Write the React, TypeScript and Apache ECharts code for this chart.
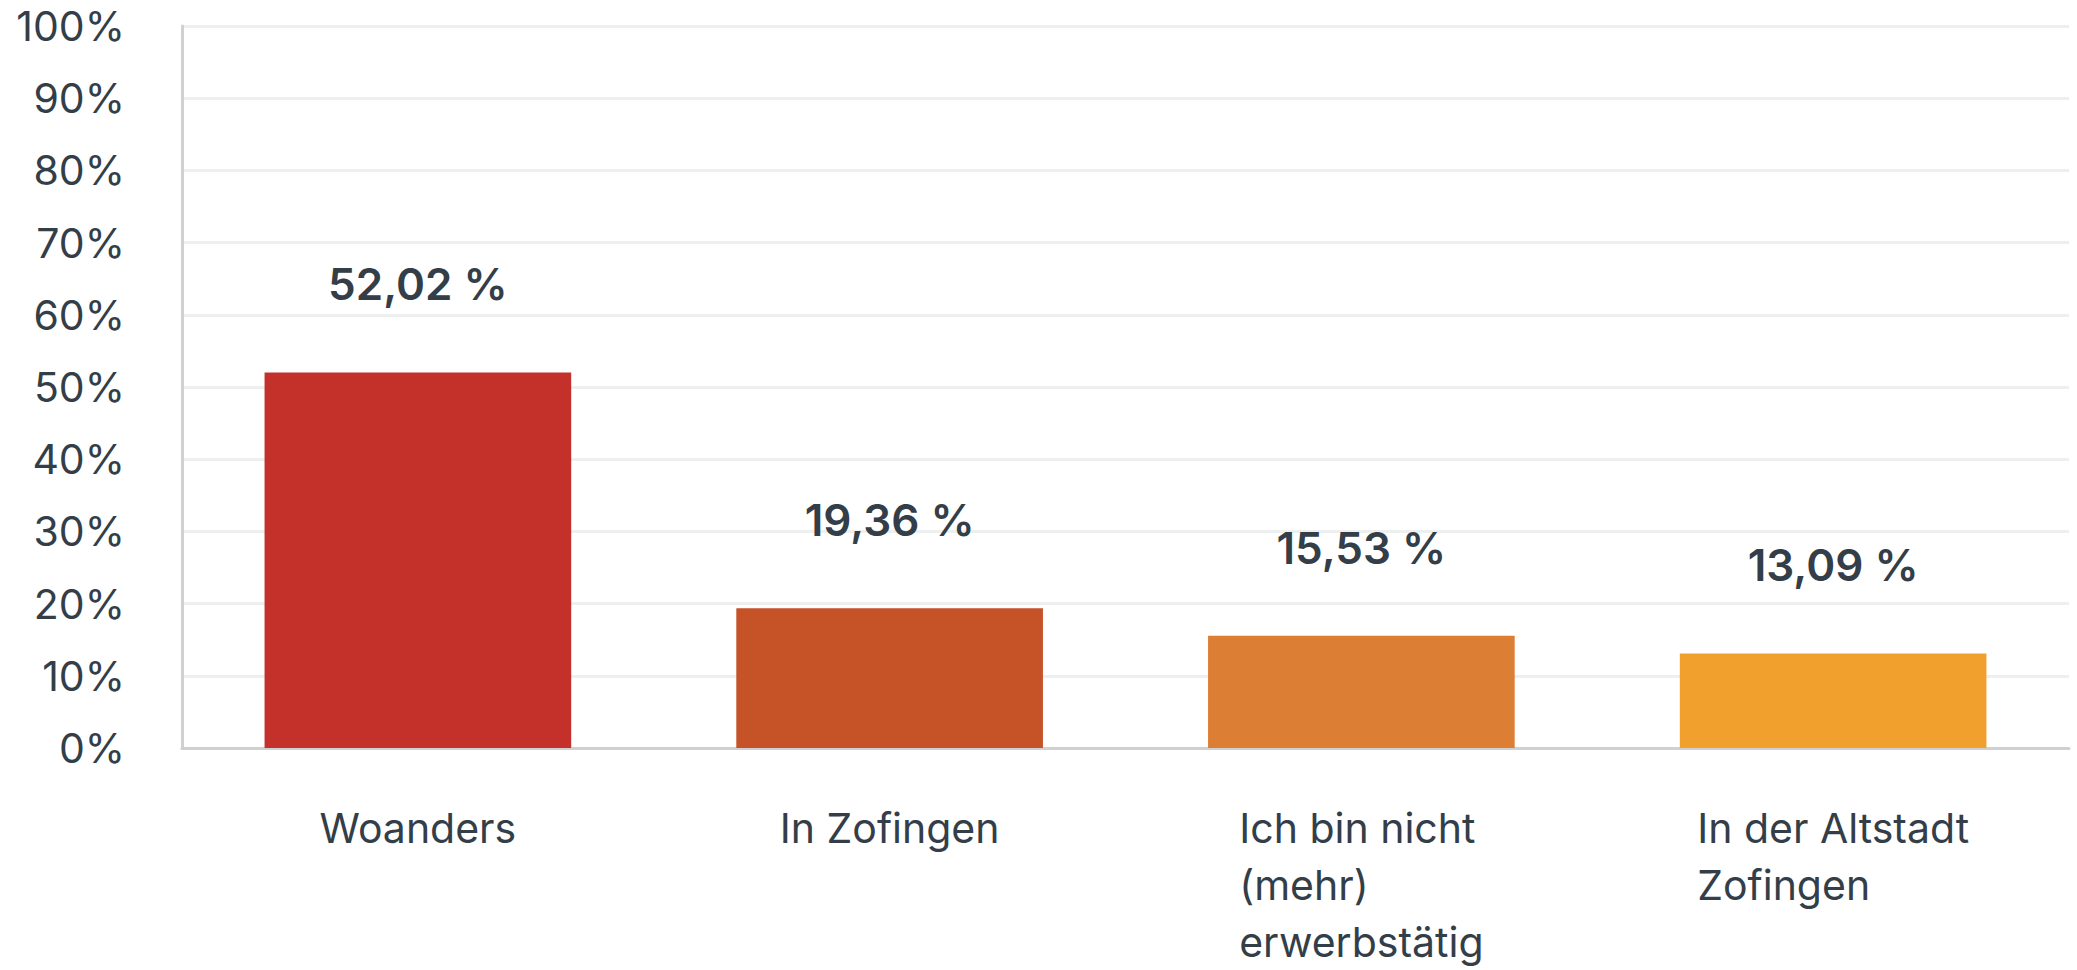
import React, { useEffect, useRef } from "react";
import * as echarts from "echarts";

const categories: string[][] = [
  ["Woanders"],
  ["In Zofingen"],
  ["Ich bin nicht", "(mehr)", "erwerbstätig"],
  ["In der Altstadt", "Zofingen"],
];
const values: number[] = [52.02, 19.36, 15.53, 13.09];
const valueLabels: string[] = ["52,02 %", "19,36 %", "15,53 %", "13,09 %"];
const barColors: string[] = ["#C4312B", "#C65228", "#DD7E35", "#F1A02E"];
const yTicks: number[] = [0, 10, 20, 30, 40, 50, 60, 70, 80, 90, 100];

const TEXT = "#333E48";
const FONT = "Inter, 'Noto Sans', sans-serif";

export default function App() {
  const ref = useRef<HTMLDivElement>(null);
  useEffect(() => {
    if (!ref.current) return;
    const chart = echarts.init(ref.current, null, { renderer: "svg" });
    const catNames = categories.map((c) => c.join("\n"));
    chart.setOption({
      animation: false,
      backgroundColor: "#ffffff",
      grid: { left: 182, right: 8, top: 22, bottom: 213, containLabel: false },
      xAxis: {
        type: "category",
        data: catNames,
        axisLine: { show: true, lineStyle: { color: "#D0D0D0", width: 3 } },
        axisTick: { show: false },
        axisLabel: {
          margin: 51,
          interval: 0,
          color: TEXT,
          fontFamily: FONT,
          fontSize: 41,
          lineHeight: 57,
          formatter: (v: string) =>
            v
              .split("\n")
              .map((l) => "{l|" + l + "}")
              .join("\n"),
          rich: {
            l: {
              align: "left",
              color: TEXT,
              fontFamily: FONT,
              fontSize: 41,
              lineHeight: 57,
            },
          },
        },
      },
      yAxis: {
        type: "value",
        min: yTicks[0],
        max: yTicks[yTicks.length - 1],
        interval: 10,
        axisLine: { show: true, lineStyle: { color: "#D0D0D0", width: 3 } },
        axisTick: { show: false },
        splitLine: { show: true, lineStyle: { color: "#EEEFEF", width: 3 } },
        axisLabel: {
          margin: 57,
          color: TEXT,
          fontFamily: FONT,
          fontSize: 41,
          lineHeight: 42,
          padding: [10, 0, 0, 0],
          formatter: (v: number) => v + "%",
        },
      },
      series: [
        {
          type: "bar",
          barWidth: "65%",
          data: values.map((v, i) => ({
            value: v,
            itemStyle: { color: barColors[i] },
          })),
          label: {
            show: true,
            position: "top",
            distance: 62,
            color: TEXT,
            fontFamily: FONT,
            fontWeight: 600,
            fontSize: 44,
            lineHeight: 52,
            formatter: (p: any) => valueLabels[p.dataIndex],
          },
        },
      ],
    });
    return () => chart.dispose();
  }, []);
  return (
    <div
      ref={ref}
      style={{ position: "absolute", left: 0, top: 0, width: 2077, height: 970 }}
    />
  );
}
